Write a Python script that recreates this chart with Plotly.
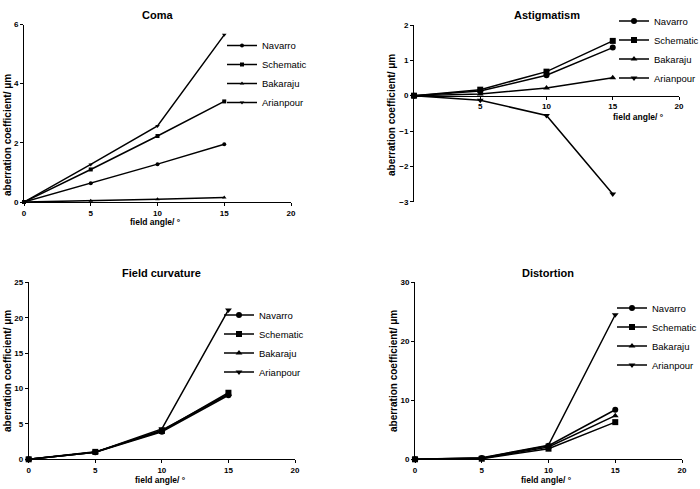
import plotly.graph_objects as go

angles = [0, 5, 10, 15]
series_names = ["Navarro", "Schematic", "Bakaraju", "Arianpour"]
symbols = ["circle", "square", "triangle-up", "triangle-down"]

coma_navarro = [0, 0.63, 1.28, 1.95]
coma_schematic = [0, 1.10, 2.23, 3.40]
coma_bakaraju = [0, 0.04, 0.09, 0.15]
coma_arianpour = [0, 1.27, 2.57, 5.65]

astig_navarro = [0, 0.13, 0.58, 1.36]
astig_schematic = [0, 0.17, 0.68, 1.55]
astig_bakaraju = [0, 0.05, 0.22, 0.51]
astig_arianpour = [0, -0.13, -0.56, -2.78]

fc_navarro = [0, 1.00, 3.90, 9.05]
fc_schematic = [0, 1.05, 4.00, 9.40]
fc_bakaraju = [0, 1.00, 4.10, 9.20]
fc_arianpour = [0, 1.00, 4.30, 21.10]

dist_navarro = [0, 0.20, 2.30, 8.40]
dist_schematic = [0, 0.10, 1.80, 6.30]
dist_bakaraju = [0, 0.15, 2.10, 7.40]
dist_arianpour = [0, 0.25, 2.40, 24.50]

panel_titles = ["Coma", "Astigmatism", "Field curvature", "Distortion"]
panels = [
    [coma_navarro, coma_schematic, coma_bakaraju, coma_arianpour],
    [astig_navarro, astig_schematic, astig_bakaraju, astig_arianpour],
    [fc_navarro, fc_schematic, fc_bakaraju, fc_arianpour],
    [dist_navarro, dist_schematic, dist_bakaraju, dist_arianpour],
]
y_ticks = [[0, 2, 4, 6], [-3, -2, -1, 0, 1, 2], [0, 5, 10, 15, 20, 25], [0, 10, 20, 30]]
x_ticks = [[0, 5, 10, 15, 20], [5, 10, 15, 20], [0, 5, 10, 15, 20], [0, 5, 10, 15, 20]]
y_title = "aberration coefficient/ μm"
x_title = "field angle/ °"

W, H = 700, 489
FONT = "Arial, Liberation Sans, Helvetica, sans-serif"

def px(v):
    return v / W

def py(v):
    return 1 - v / H

# pixel geometry of each panel: x0, x1, ytop, ybottom
geo = [
    (24, 291, 24.5, 202),
    (414, 679, 25, 201.7),
    (28.7, 295, 282.3, 459.3),
    (415, 682, 282.3, 459.3),
]
marker_sizes = [4, 6, 6, 6]
legend_pos = [(222, 74), (614, 49.5), (219, 343.5), (612, 336.5)]
title_pos = [(157, 7), (547, 7), (161, 265), (548, 265)]
ytitle_pos = [(8, 135), (391, 115), (7, 371), (393, 371)]
xtitle_pos = [(155, 222), (638, 117), (160, 480), (546, 480)]

fig = go.Figure()
layout = dict(
    width=W, height=H,
    margin=dict(l=0, r=0, t=0, b=0, autoexpand=False),
    paper_bgcolor="white", plot_bgcolor="white",
    font=dict(family=FONT, color="black"),
    annotations=[],
)

for i, vals in enumerate(panels):
    n = i + 1
    xa = "x" if n == 1 else f"x{n}"
    ya = "y" if n == 1 else f"y{n}"
    leg = "legend" if n == 1 else f"legend{n}"
    for name, sym, yv in zip(series_names, symbols, vals):
        fig.add_trace(go.Scatter(
            x=angles, y=yv, name=name, mode="lines+markers",
            line=dict(color="black", width=1.5),
            marker=dict(symbol=sym, size=marker_sizes[i], color="black"),
            xaxis=xa, yaxis=ya, legend=leg, cliponaxis=False,
        ))
    x0, x1, yt, yb = geo[i]
    yr = [y_ticks[i][0], y_ticks[i][-1]]
    xaxis = dict(
        domain=[px(x0), px(x1)], range=[0, 20], tickvals=x_ticks[i],
        showline=True, linecolor="black", linewidth=1, ticks="outside",
        ticklen=3, tickwidth=1, tickcolor="black", showgrid=False, zeroline=False,
        tickfont=dict(size=8, family=FONT, weight="bold"), anchor=ya,
    )
    if i == 1:
        xaxis.update(anchor="free", position=py(yb - (0 - yr[0]) / (yr[1] - yr[0]) * (yb - yt)))
    yaxis = dict(
        domain=[py(yb), py(yt)], range=yr, tickvals=y_ticks[i],
        showline=True, linecolor="black", linewidth=1, ticks="outside",
        ticklen=3, tickwidth=1, tickcolor="black", showgrid=False, zeroline=False,
        tickfont=dict(size=8, family=FONT, weight="bold"), anchor=xa,
    )
    layout["xaxis" if n == 1 else f"xaxis{n}"] = xaxis
    layout["yaxis" if n == 1 else f"yaxis{n}"] = yaxis
    lx, ly = legend_pos[i]
    layout[leg] = dict(
        x=px(lx), y=py(ly), xanchor="left", yanchor="middle",
        font=dict(size=9.5, family=FONT), bgcolor="rgba(0,0,0,0)",
        tracegroupgap=0,
    )
    tx, ty = title_pos[i]
    layout["annotations"].append(dict(
        text=panel_titles[i], x=px(tx), y=py(ty), xref="paper", yref="paper",
        xanchor="center", yanchor="top", showarrow=False,
        font=dict(size=11, family=FONT, weight="bold"),
    ))
    ax_, ay_ = ytitle_pos[i]
    layout["annotations"].append(dict(
        text=y_title, x=px(ax_), y=py(ay_), xref="paper", yref="paper",
        xanchor="center", yanchor="middle", showarrow=False, textangle=-90,
        font=dict(size=10, family=FONT, weight="bold"),
    ))
    bx, by = xtitle_pos[i]
    layout["annotations"].append(dict(
        text=x_title, x=px(bx), y=py(by), xref="paper", yref="paper",
        xanchor="center", yanchor="middle", showarrow=False,
        font=dict(size=8.5, family=FONT, weight="bold"),
    ))

fig.update_layout(**layout)
fig.write_html("out.html", config={"displayModeBar": False},
               post_script="document.body.style.margin='0px';")
